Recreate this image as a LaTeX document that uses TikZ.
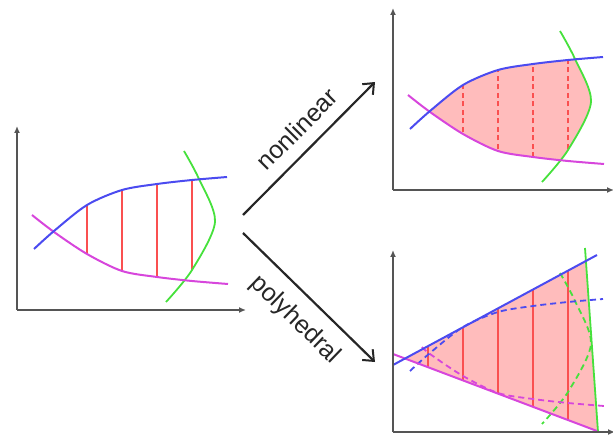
\documentclass[tikz,border=0pt]{standalone}
\usepackage{fontspec}
\setmainfont{Liberation Sans}
\usetikzlibrary{arrows.meta}
\definecolor{cblue}{RGB}{75,75,240}
\definecolor{cmag}{RGB}{215,70,220}
\definecolor{cgreen}{RGB}{70,225,60}
\definecolor{cred}{RGB}{250,80,80}
\definecolor{cfill}{RGB}{255,188,188}
\definecolor{caxis}{RGB}{85,85,85}
\newcommand\bluecurve{plot[smooth] coordinates {(17,61) (37,79) (70,105) (105,120) (140,126) (175,130) (210,133)}}
\newcommand\magcurve{plot[smooth] coordinates {(15,95) (37,78) (70,56) (105,39) (140,33) (175,29) (211,26)}}
\newcommand\magcurvepart{plot[smooth] coordinates {(29,85) (37,78) (70,56) (105,39) (140,33) (175,29) (211,26)}}
\newcommand\greencurve{plot[smooth] coordinates {(167,159) (182,131) (198,88) (175,40) (149,8)}}
\newcommand\regionclip{%
  \clip \bluecurve -- (210,-30) -- (0,-30) -- cycle;
  \clip \magcurve -- (211,260) -- (0,260) -- cycle;
  \clip \greencurve -- (149,-30) -- (-30,-30) -- (-30,260) -- (167,260) -- cycle;}
\tikzset{
  axis/.style={draw=caxis, line width=1.4pt, -{Latex[length=7pt,width=6pt]}},
  bluec/.style={draw=cblue, line width=2pt},
  magc/.style={draw=cmag, line width=2pt},
  greenc/.style={draw=cgreen, line width=1.8pt},
  redv/.style={draw=cred, line width=1.3pt},
  reddash/.style={draw=cred, line width=1.3pt, dash pattern=on 5pt off 3.5pt},
  curvedash/.style={line width=1.8pt, dash pattern=on 6pt off 4pt},
  bigarrow/.style={draw=black!85, line width=2.2pt, -{Straight Barb[length=9pt,width=15pt,line width=2pt]}},
  lbl/.style={font=\fontsize{25}{30}\selectfont, text=black!85, inner sep=0pt}
}
\begin{document}
\begin{tikzpicture}[x=1pt,y=1pt]
\useasboundingbox (0,0) rectangle (613,434);
% ---------- left panel ----------
\begin{scope}[shift={(17,124)}]
  \coordinate (lo) at (0,0);
  \coordinate (ly) at (0,184);
  \coordinate (lx) at (229,0);
  \draw[axis] (lo) -- (ly);
  \draw[axis] (lo) -- (lx);
  \begin{scope}
    \regionclip
    \foreach \xx in {70,105,140,175} \draw[redv] (\xx,-10) -- (\xx,250);
  \end{scope}
  \draw[greenc] \greencurve;
  \draw[magc] \magcurve;
  \draw[bluec] \bluecurve;
\end{scope}
% ---------- top right panel ----------
\begin{scope}[shift={(393,244)}]
  \coordinate (to) at (0,0);
  \coordinate (ty) at (0,182);
  \coordinate (tx) at (221,0);
  \draw[axis] (to) -- (ty);
  \draw[axis] (to) -- (tx);
  \begin{scope}
    \regionclip
    \fill[cfill] (-10,-10) rectangle (250,250);
    \foreach \xx in {70,105,140,175} \draw[reddash] (\xx,-10) -- (\xx,250);
  \end{scope}
  \draw[greenc] \greencurve;
  \draw[magc] \magcurve;
  \draw[bluec] \bluecurve;
\end{scope}
% ---------- bottom right panel ----------
\begin{scope}[shift={(393,2)}]
  \coordinate (bo) at (0,0);
  \coordinate (by) at (0,182);
  \coordinate (bx) at (222,0);
  \coordinate (tA) at (12,73.5);
  \coordinate (tB) at (192.9,171);
  \coordinate (tC) at (205,0.6);
  \fill[cfill] (tA) -- (tB) -- (tC) -- cycle;
  \begin{scope}
    \clip (tA) -- (tB) -- (tC) -- cycle;
    \foreach \xx in {35,70,105,140,175} \draw[redv] (\xx,-10) -- (\xx,250);
  \end{scope}
  \draw[curvedash, cgreen] \greencurve;
  \draw[curvedash, cmag] \magcurvepart;
  \draw[curvedash, cblue] \bluecurve;
  \coordinate (bl0) at (0,67);
  \coordinate (bl1) at (204,177);
  \coordinate (ml0) at (0,78);
  \coordinate (ml1) at (204,1);
  \coordinate (gl0) at (192,184);
  \coordinate (gl1) at (205,0);
  \draw[greenc] (gl0) -- (gl1);
  \draw[magc] (ml0) -- (ml1);
  \draw[bluec] (bl0) -- (bl1);
  \draw[axis] (bo) -- (by);
  \draw[axis] (bo) -- (bx);
\end{scope}
% ---------- arrows ----------
\coordinate (a1s) at (243,219);
\coordinate (a1e) at (375,352);
\coordinate (a2s) at (243,201);
\coordinate (a2e) at (375,72);
\draw[bigarrow] (a1s) -- (a1e);
\draw[bigarrow] (a2s) -- (a2e);
\node[lbl, rotate=45] (nl) at (297,305) {nonlinear};
\node[lbl, rotate=-44] (ph) at (295,114) {polyhedral};
\end{tikzpicture}
\end{document}
